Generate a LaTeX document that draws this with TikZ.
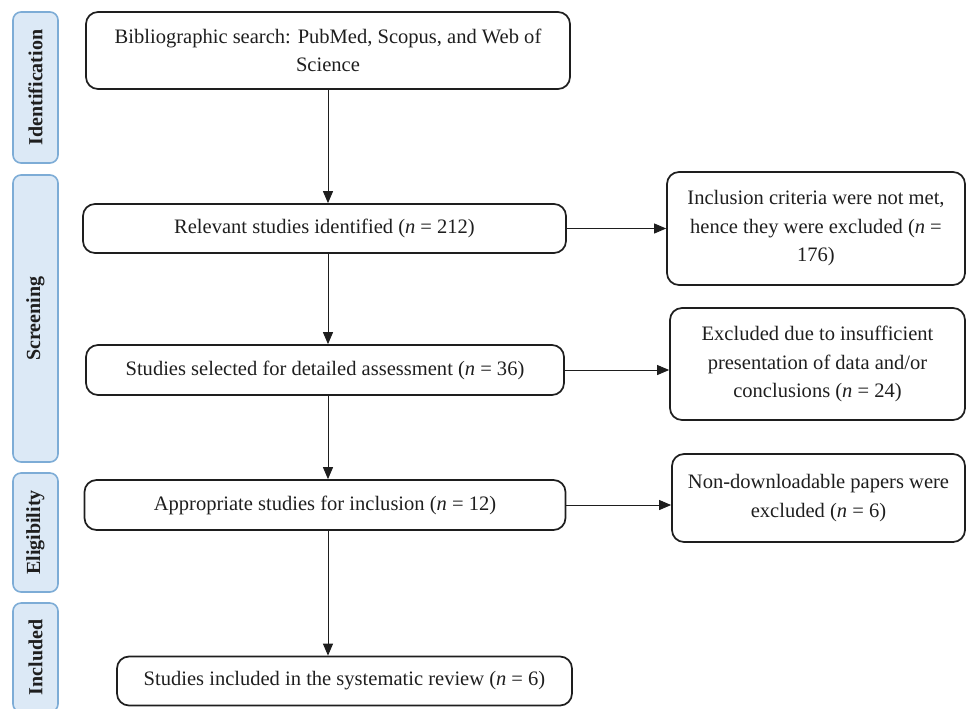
\documentclass[tikz,border=0pt]{standalone}
\usepackage{fontspec}
\setmainfont{Liberation Serif}
\usepackage{xcolor}
\usepackage{tikz}
\usetikzlibrary{
    positioning,
    arrows.meta
}
\definecolor{tabBlue}{RGB}{220, 233, 246}
\definecolor{tabEdge}{RGB}{125, 172, 214}
\definecolor{inkGray}{RGB}{30, 30, 30}

\begin{document}
\begin{tikzpicture}[x=0.75pt, y=-0.75pt, >={Triangle[length=9pt, width=7.5pt]},
    flowbox/.style={draw=inkGray, line width=1.3pt, rounded corners=9pt, align=center,
        text=inkGray, inner sep=2pt, font=\fontsize{15.4pt}{21.4pt}\selectfont},
    stagetab/.style={draw=tabEdge, fill=tabBlue, line width=1.2pt, rounded corners=6pt,
        minimum height=33.75pt, rotate=90, text=inkGray,
        font=\fontsize{15pt}{16pt}\selectfont\bfseries},
    link/.style={->, line width=0.7pt, draw=inkGray}]
        \useasboundingbox (0, 0) rectangle (966, 708);
        \clip (0, 0) rectangle (966, 708);

        % Stage tabs on the left
        \node[stagetab, minimum width=113.25pt] (tabI) at (35.5, 87.5) {Identification};
        \node[stagetab, minimum width=215.25pt] (tabS) at (35.5, 318.5) {Screening};
        \node[stagetab, minimum width=89.25pt] (tabE) at (35.5, 532.5) {Eligibility};
        \node[stagetab, minimum width=81.75pt] (tabN) at (35.5, 657.5) {Included};

        % Main column
        \node[flowbox, minimum width=363pt, minimum height=57.75pt] (search) at (328, 50.5)
            {Bibliographic search: PubMed, Scopus, and Web of\\Science};
        \node[flowbox, minimum width=362.25pt, minimum height=36.75pt] (relevant) at (324.5, 228.5)
            {Relevant studies identified (\textit{n} = 212)};
        \node[flowbox, minimum width=358.5pt, minimum height=37.5pt] (selected) at (325, 370)
            {Studies selected for detailed assessment (\textit{n} = 36)};
        \node[flowbox, minimum width=360.75pt, minimum height=37.5pt] (suitable) at (325, 505)
            {Appropriate studies for inclusion (\textit{n} = 12)};
        \node[flowbox, minimum width=341.25pt, minimum height=36.75pt] (included) at (344.5, 681)
            {Studies included in the systematic review (\textit{n} = 6)};

        % Exclusions on the right
        \node[flowbox, minimum width=223.5pt, minimum height=84.75pt] (noCriteria) at (816, 228.5)
            {Inclusion criteria were not met,\\hence they were excluded (\textit{n} =\\176)};
        \node[flowbox, minimum width=221.25pt, minimum height=84pt] (noData) at (817.5, 364)
            {Excluded due to insufficient\\presentation of data and/or\\conclusions (\textit{n} = 24)};
        \node[flowbox, minimum width=219.75pt, minimum height=66pt] (noDownload) at (818.5, 498)
            {Non-downloadable papers were\\excluded (\textit{n} = 6)};

        % Vertical flow
        \draw[link] (search.south) -- (search.south |- relevant.north);
        \draw[link] (relevant.south -| search.south) -- (selected.north -| search.south);
        \draw[link] (selected.south -| search.south) -- (suitable.north -| search.south);
        \draw[link] (suitable.south -| search.south) -- (included.north -| search.south);

        % Side exits
        \draw[link] (relevant.east) -- (relevant.east -| noCriteria.west);
        \draw[link] (selected.east) -- (selected.east -| noData.west);
        \draw[link] (suitable.east) -- (suitable.east -| noDownload.west);
    \end{tikzpicture}
\end{document}
